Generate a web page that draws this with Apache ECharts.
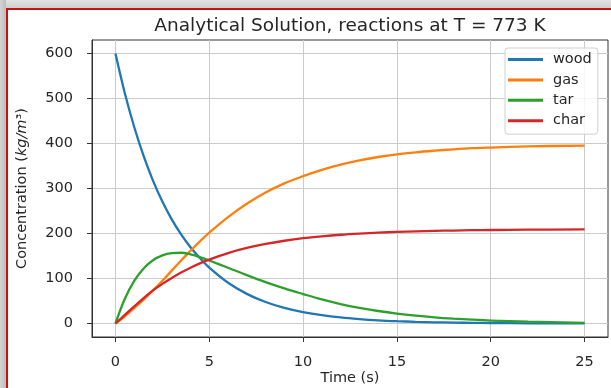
<!DOCTYPE html>
<html>
<head>
<meta charset="utf-8">
<script src="https://cdn.jsdelivr.net/npm/echarts@6/dist/echarts.min.js"></script>
<style>
  html, body { margin: 0; padding: 0; background: #fff; }
  #wrap { position: relative; width: 611px; height: 388px; overflow: hidden; }
  .frameTop { position: absolute; left: 0; top: 0; width: 611px; height: 8px;
    background: linear-gradient(#e2e2e2, #cfcfcf); }
  .frameLeft { position: absolute; left: 0; top: 0; width: 6px; height: 388px;
    background: linear-gradient(90deg, #d4d4d4, #bdbdbd); }
  .redTop { position: absolute; left: 6px; top: 8px; width: 605px; height: 2px; background: #cc1010; }
  .redLeft { position: absolute; left: 6px; top: 8px; width: 2px; height: 380px; background: #cc1010; }
  #chart { position: absolute; left: 0; top: 0; width: 611px; height: 388px; }
</style>
</head>
<body>
<div id="wrap">
  <div class="frameTop"></div>
  <div class="frameLeft"></div>
  <div class="redTop"></div>
  <div class="redLeft"></div>
  <div id="chart"></div>
</div>
<script>
// 时间点 (s) 与各组分浓度 (kg/m3)
const time = [0, 0.5, 1, 1.5, 2, 2.5, 3, 3.5, 4, 4.5, 5, 6, 7, 8, 9, 10, 11, 12, 13, 14, 15, 16, 17, 18, 19, 20, 22, 25];
const wood = [600, 511.8, 436.6, 372.4, 317.6, 271.0, 231.5, 198.0, 169.5, 145.5, 124.0, 90.5, 65.8, 47.8, 34.8, 25.4, 18.5, 13.4, 9.8, 7.1, 5.2, 3.8, 2.7, 2.0, 1.4, 1.0, 0.5, 0.2];
const gas = [0, 16.0, 34.0, 53.0, 73.5, 95.0, 117.5, 140.0, 161.5, 182.5, 202.0, 236.5, 266.0, 291.0, 311.5, 327.5, 341.5, 353.0, 362.5, 370.0, 376.0, 380.5, 384.0, 387.0, 389.5, 391.0, 393.5, 395.5];
const tar = [0, 55.0, 94.8, 122.4, 140.6, 151.4, 156.4, 157.2, 153.5, 147.5, 140.0, 124.0, 107.5, 92.0, 78.0, 65.5, 53.5, 43.3, 34.8, 27.8, 22.0, 17.4, 13.7, 10.8, 8.5, 6.6, 4.0, 1.6];
const char = [0, 19.0, 38.0, 56.5, 73.5, 88.0, 101.2, 113.2, 124.0, 133.5, 142.0, 156.5, 167.8, 176.8, 183.9, 189.6, 193.8, 197.2, 199.8, 201.9, 203.5, 204.8, 205.8, 206.6, 207.3, 207.8, 208.5, 209.0];

const xTicks = [0, 5, 10, 15, 20, 25];
const yTicks = [0, 100, 200, 300, 400, 500, 600];

const seriesNames = ['wood', 'gas', 'tar', 'char'];
const seriesData = [wood, gas, tar, char];
const colors = ['#1f77b4', '#ff7f0e', '#2ca02c', '#d62728'];

const font = 'DejaVu Sans';
const axisColor = '#333';
const textColor = '#262626';

const chart = echarts.init(document.getElementById('chart'));

const option = {
  backgroundColor: 'transparent',
  animation: false,
  title: {
    text: 'Analytical Solution, reactions at T = 773 K',
    left: 350,
    top: 17,
    textAlign: 'center',
    padding: 0,
    textStyle: { fontFamily: font, fontSize: 18.5, fontWeight: 'normal', color: textColor }
  },
  legend: {
    data: seriesNames,
    orient: 'vertical',
    left: 505,
    top: 48,
    padding: [4, 6, 6, 3],
    itemGap: 5.4,
    itemWidth: 35,
    itemHeight: 3,
    icon: 'rect',
    backgroundColor: 'rgba(255,255,255,0.8)',
    borderColor: '#d0d0d0',
    borderWidth: 1,
    borderRadius: 3,
    textStyle: { fontFamily: font, fontSize: 14.5, color: textColor, lineHeight: 14, padding: [0, 0, 0, 5] }
  },
  grid: {
    left: 92,
    right: 3,
    top: 40,
    bottom: 51,
    outerBoundsMode: 'none',
    show: true,
    borderColor: axisColor,
    borderWidth: 1,
    backgroundColor: '#fff'
  },
  xAxis: {
    type: 'value',
    min: -1.25,
    max: 26.25,
    name: 'Time (s)',
    nameLocation: 'middle',
    nameGap: 34,
    nameMoveOverlap: false,
    nameTextStyle: { fontFamily: font, fontSize: 14.5, color: textColor },
    axisLine: { show: true, onZero: false, lineStyle: { color: axisColor, width: 1 } },
    axisTick: { show: true, customValues: xTicks, length: 5, lineStyle: { color: axisColor } },
    axisLabel: { customValues: xTicks, margin: 18, fontFamily: font, fontSize: 14.5, color: textColor },
    splitLine: { show: true, lineStyle: { color: '#cbcbcb', width: 1 } }
  },
  yAxis: {
    type: 'value',
    min: -30,
    max: 630,
    name: 'Concentration ({i|kg/m}³)',
    nameLocation: 'middle',
    nameRotate: 90,
    nameGap: 62,
    nameMoveOverlap: false,
    nameTextStyle: {
      fontFamily: font, fontSize: 14.5, color: textColor,
      rich: { i: { fontFamily: font, fontSize: 14.5, fontStyle: 'italic', color: textColor } }
    },
    axisLine: { show: true, onZero: false, lineStyle: { color: axisColor, width: 1 } },
    axisTick: { show: true, customValues: yTicks, length: 5, lineStyle: { color: axisColor } },
    axisLabel: { customValues: yTicks, margin: 19, fontFamily: font, fontSize: 14.5, color: textColor },
    splitLine: { show: true, lineStyle: { color: '#cbcbcb', width: 1 } }
  },
  series: seriesNames.map((name, k) => ({
    name: name,
    type: 'line',
    data: time.map((t, i) => [t, seriesData[k][i]]),
    smooth: 0.35,
    showSymbol: false,
    lineStyle: { color: colors[k], width: 2.3 },
    itemStyle: { color: colors[k] }
  }))
};

chart.setOption(option);
</script>
</body>
</html>
